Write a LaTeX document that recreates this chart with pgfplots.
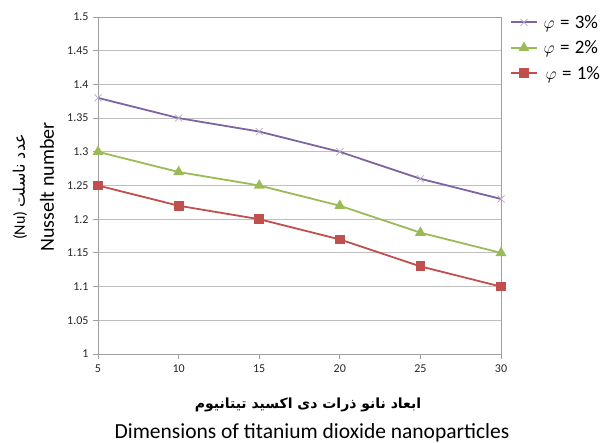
\documentclass[border=0pt]{standalone}
\usepackage{fontspec}
\usepackage{pgfplots}
\pgfplotsset{compat=1.18}
\setmainfont{Carlito}
\newfontfamily\arabicfont[Script=Arabic]{DejaVu Sans}
\TeXXeTstate=1
\definecolor{cPurple}{HTML}{8064A2}
\definecolor{cGreen}{HTML}{9BBB59}
\definecolor{cRed}{HTML}{C0504D}
\definecolor{cGrid}{HTML}{BFBFBF}
\definecolor{cAxis}{HTML}{A0A0A0}
\begin{document}
\begin{tikzpicture}
\path[use as bounding box] (-98pt,-89pt) rectangle (514pt,354pt);
\begin{axis}[
  at={(0,0)}, anchor=south west,
  scale only axis, width=403pt, height=337pt,
  xmin=5, xmax=30, ymin=1, ymax=1.5,
  xtick={5,10,15,20,25,30},
  ytick={1,1.05,1.1,1.15,1.2,1.25,1.3,1.35,1.4,1.45,1.5},
  yticklabels={1,1.05,1.1,1.15,1.2,1.25,1.3,1.35,1.4,1.45,1.5},
  ymajorgrids, grid style={cGrid, line width=0.9pt},
  axis line style={cAxis, line width=0.9pt},
  tick style={cAxis, line width=0.9pt},
  tick align=outside, major tick length=5pt,
  xtick pos=bottom, ytick pos=left,
  /pgf/number format/assume math mode=true,
  tick label style={font=\fontsize{12}{13}\selectfont, text=black!85},
  xticklabel style={yshift=-2pt},
  yticklabel style={xshift=-1pt},
  legend style={at={(1.02,1.015)}, anchor=north west, draw=none, fill=none,
    font=\fontsize{19}{21}\selectfont, row sep=7pt, inner sep=1pt},
  legend cell align=left,
  legend image code/.code={\draw[mark repeat=2,mark phase=2] plot coordinates {(0cm,0cm) (0.45cm,0cm) (0.9cm,0cm)};},
  every axis plot/.append style={line width=1.8pt},
]
\addplot[cPurple, mark=x, mark size=5pt, mark options={line width=0.7pt, color=cPurple!55}] coordinates {(5,1.38) (10,1.35) (15,1.33) (20,1.30) (25,1.26) (30,1.23)};
\addlegendentry{\hspace{4pt}$\varphi$\;=\;3\%}
\addplot[cGreen, mark=triangle*, mark size=4.5pt, mark options={solid}] coordinates {(5,1.30) (10,1.27) (15,1.25) (20,1.22) (25,1.18) (30,1.15)};
\addlegendentry{\hspace{4pt}$\varphi$\;=\;2\%}
\addplot[cRed, mark=square*, mark size=4pt] coordinates {(5,1.25) (10,1.22) (15,1.20) (20,1.17) (25,1.13) (30,1.10)};
\addlegendentry{\hspace{6pt}$\varphi$\;=\;1\%}
\end{axis}
\node[rotate=90, font=\fontsize{20}{22}\selectfont] at (-51pt,167pt) {Nusselt number};
\node[rotate=90, font=\fontsize{16}{18}\selectfont] at (-78pt,167pt) {(Nu) {\arabicfont\beginR عدد ناسلت\endR}};
\node[font=\fontsize{14}{16}\selectfont\bfseries] at (210pt,-51pt) {\arabicfont\beginR ابعاد نانو ذرات دی اکسید تیتانیوم\endR};
\node[font=\fontsize{21.5}{23}\selectfont] at (214pt,-79pt) {Dimensions of titanium dioxide nanoparticles};
\end{tikzpicture}
\end{document}
